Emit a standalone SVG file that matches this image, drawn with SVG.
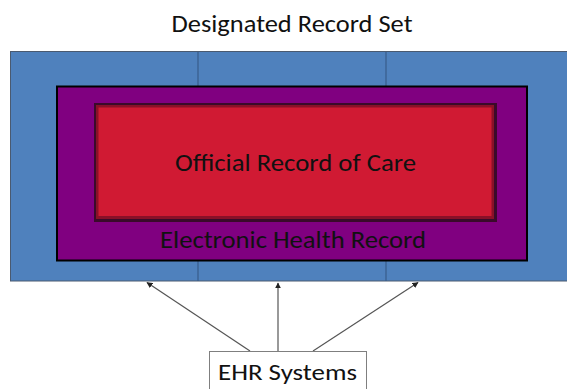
<svg xmlns="http://www.w3.org/2000/svg" width="567" height="389" viewBox="0 0 567 389">
  <defs>
    <marker id="arrow" viewBox="0 0 10 10" refX="9" refY="5" markerWidth="6" markerHeight="6" orient="auto-start-reverse" markerUnits="userSpaceOnUse">
      <path d="M0,0 L10,5 L0,10 z" fill="#222"/>
    </marker>
  </defs>
  <style>
    .lbl { font-family: Carlito, "Open Sans", "Liberation Sans", sans-serif; fill: #111; }
    .conn { stroke: #555; stroke-width: 1.2; fill: none; marker-end: url(#arrow); }
  </style>
  <rect width="567" height="389" fill="#ffffff"/>

  <text class="lbl" x="292" y="32" font-size="25" text-anchor="middle" textLength="241" lengthAdjust="spacingAndGlyphs">Designated Record Set</text>

  <g id="designated-record-set">
    <rect x="10.5" y="51.5" width="560" height="229.5" fill="#4f81bd" stroke="#4a5a70" stroke-width="1"/>
    <line x1="198" y1="52" x2="198" y2="281" stroke="#385d8a" stroke-width="1.2"/>
    <line x1="386" y1="52" x2="386" y2="281" stroke="#385d8a" stroke-width="1.2"/>
  </g>

  <g id="electronic-health-record">
    <rect x="57" y="86.5" width="470" height="174" fill="#800080" stroke="#000" stroke-width="2"/>
    <text class="lbl" x="293" y="248" font-size="24" text-anchor="middle" textLength="266" lengthAdjust="spacingAndGlyphs">Electronic Health Record</text>
  </g>

  <g id="official-record-of-care">
    <rect x="94" y="103" width="403" height="119" fill="#3a0a2a"/>
    <rect x="96" y="105" width="398" height="114" fill="#8a1028"/>
    <rect x="98.5" y="107.5" width="393" height="108.5" fill="#d01a33"/>
    <text class="lbl" x="295.5" y="171" font-size="24" text-anchor="middle" textLength="241" lengthAdjust="spacingAndGlyphs">Official Record of Care</text>
  </g>

  <g id="connectors">
    <line class="conn" x1="250" y1="351" x2="147" y2="282.5"/>
    <line class="conn" x1="278" y1="351" x2="278" y2="283"/>
    <line class="conn" x1="313" y1="351" x2="418" y2="282.5"/>
  </g>

  <g id="ehr-systems">
    <rect x="209.5" y="351.5" width="157" height="45" fill="#ffffff" stroke="#7f7f7f" stroke-width="1"/>
    <text class="lbl" x="287.5" y="380" font-size="23" text-anchor="middle" textLength="139" lengthAdjust="spacingAndGlyphs">EHR Systems</text>
  </g>
</svg>
